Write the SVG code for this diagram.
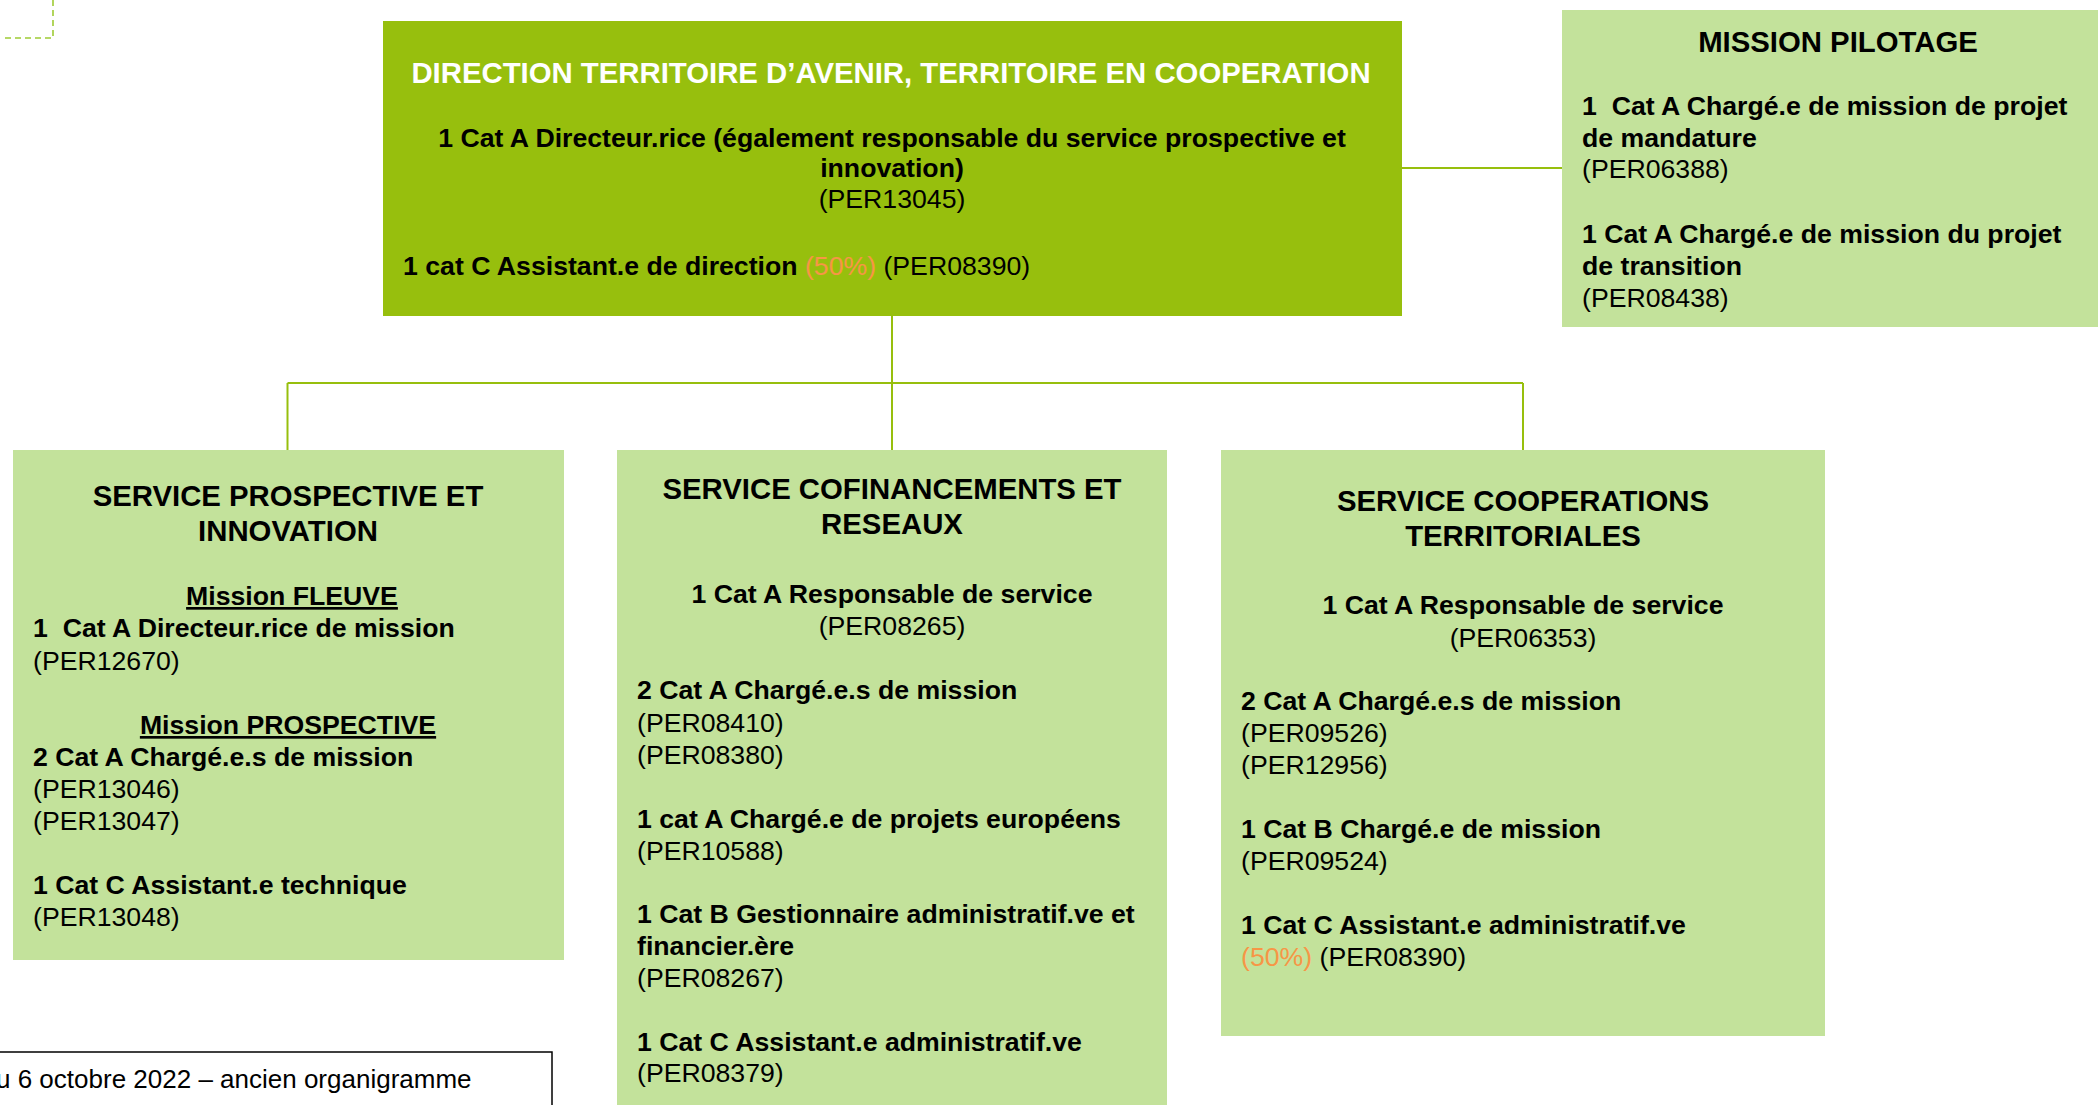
<svg xmlns="http://www.w3.org/2000/svg" width="2098" height="1105" viewBox="0 0 2098 1105">
<style>
  text { font-family: "Liberation Sans", Arial, sans-serif; fill: #000; }
  .t { font-size: 29.33px; font-weight: bold; }
  .b { font-size: 26.67px; font-weight: bold; }
  .r { font-size: 26.67px; font-weight: normal; }
  .c { text-anchor: middle; }
  .o { fill: #F79646; font-weight: normal; }
  .box { fill: #C3E29B; }
  .main { fill: #97BF0D; }
  .conn { stroke: #97BF0D; stroke-width: 2; fill: none; }
</style>
<rect width="2098" height="1105" fill="#fff"/>

<g id="decor">
  <path d="M53 0 V38 H2" fill="none" stroke="#9FCB35" stroke-width="1.6" stroke-dasharray="6 4"/>
</g>

<g id="connectors">
  <path class="conn" d="M1402 168 H1562"/>
  <path class="conn" d="M892 316 V450"/>
  <path class="conn" d="M287.5 383 H1523" stroke-width="3"/>
  <path class="conn" d="M287.5 383 V450"/>
  <path class="conn" d="M1523 383 V450"/>
</g>

<g id="direction">
  <rect class="main" x="383" y="21" width="1019" height="295"/>
  <text class="t c" x="891" y="83" style="fill:#fff">DIRECTION TERRITOIRE D’AVENIR, TERRITOIRE EN COOPERATION</text>
  <text class="b c" x="892" y="147">1 Cat A Directeur.rice (également responsable du service prospective et</text>
  <text class="b c" x="892" y="177">innovation)</text>
  <text class="r c" x="892" y="208">(PER13045)</text>
  <text class="b" x="403" y="275">1 cat C Assistant.e de direction <tspan class="o">(50%)</tspan><tspan font-weight="normal"> (PER08390)</tspan></text>
</g>

<g id="mission-pilotage">
  <rect class="box" x="1562" y="10" width="550" height="317"/>
  <text class="t c" x="1838" y="52">MISSION PILOTAGE</text>
  <text class="b" x="1582" y="115" xml:space="preserve">1  Cat A Chargé.e de mission de projet</text>
  <text class="b" x="1582" y="147">de mandature</text>
  <text class="r" x="1582" y="178">(PER06388)</text>
  <text class="b" x="1582" y="243">1 Cat A Chargé.e de mission du projet</text>
  <text class="b" x="1582" y="275">de transition</text>
  <text class="r" x="1582" y="307">(PER08438)</text>
</g>

<g id="service-prospective">
  <rect class="box" x="13" y="450" width="551" height="510"/>
  <text class="t c" x="288" y="506">SERVICE PROSPECTIVE ET</text>
  <text class="t c" x="288" y="541">INNOVATION</text>
  <text class="b c" x="292" y="605" text-decoration="underline">Mission FLEUVE</text>
  <text class="b" x="33" y="637" xml:space="preserve">1  Cat A Directeur.rice de mission</text>
  <text class="r" x="33" y="670">(PER12670)</text>
  <text class="b c" x="288" y="734" text-decoration="underline">Mission PROSPECTIVE</text>
  <text class="b" x="33" y="766">2 Cat A Chargé.e.s de mission</text>
  <text class="r" x="33" y="798">(PER13046)</text>
  <text class="r" x="33" y="830">(PER13047)</text>
  <text class="b" x="33" y="894">1 Cat C Assistant.e technique</text>
  <text class="r" x="33" y="926">(PER13048)</text>
</g>

<g id="service-cofinancements">
  <rect class="box" x="617" y="450" width="550" height="670"/>
  <text class="t c" x="892" y="499">SERVICE COFINANCEMENTS ET</text>
  <text class="t c" x="892" y="534">RESEAUX</text>
  <text class="b c" x="892" y="603">1 Cat A Responsable de service</text>
  <text class="r c" x="892" y="635">(PER08265)</text>
  <text class="b" x="637" y="699">2 Cat A Chargé.e.s de mission</text>
  <text class="r" x="637" y="732">(PER08410)</text>
  <text class="r" x="637" y="764">(PER08380)</text>
  <text class="b" x="637" y="828">1 cat A Chargé.e de projets européens</text>
  <text class="r" x="637" y="860">(PER10588)</text>
  <text class="b" x="637" y="923">1 Cat B Gestionnaire administratif.ve et</text>
  <text class="b" x="637" y="955">financier.ère</text>
  <text class="r" x="637" y="987">(PER08267)</text>
  <text class="b" x="637" y="1051">1 Cat C Assistant.e administratif.ve</text>
  <text class="r" x="637" y="1082">(PER08379)</text>
</g>

<g id="service-cooperations">
  <rect class="box" x="1221" y="450" width="604" height="586"/>
  <text class="t c" x="1523" y="511">SERVICE COOPERATIONS</text>
  <text class="t c" x="1523" y="546">TERRITORIALES</text>
  <text class="b c" x="1523" y="614">1 Cat A Responsable de service</text>
  <text class="r c" x="1523" y="647">(PER06353)</text>
  <text class="b" x="1241" y="710">2 Cat A Chargé.e.s de mission</text>
  <text class="r" x="1241" y="742">(PER09526)</text>
  <text class="r" x="1241" y="774">(PER12956)</text>
  <text class="b" x="1241" y="838">1 Cat B Chargé.e de mission</text>
  <text class="r" x="1241" y="870">(PER09524)</text>
  <text class="b" x="1241" y="934">1 Cat C Assistant.e administratif.ve</text>
  <text class="r" x="1241" y="966"><tspan class="o">(50%)</tspan> (PER08390)</text>
</g>

<g id="footer-note">
  <rect x="-5" y="1052" width="557" height="100" fill="#fff" stroke="#000" stroke-width="1.5"/>
  <text class="r" x="-4" y="1088" style="font-size:26px">u 6 octobre 2022 – ancien organigramme</text>
</g>
</svg>
